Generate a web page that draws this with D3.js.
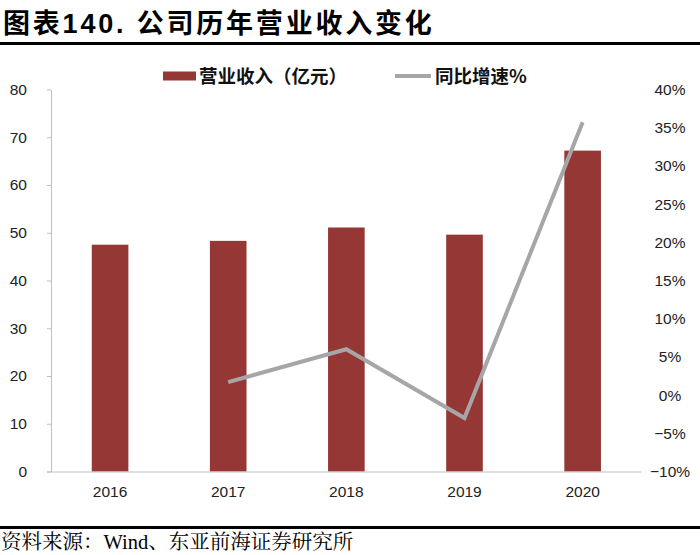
<!DOCTYPE html>
<html><head><meta charset="utf-8">
<script src="https://cdn.jsdelivr.net/npm/d3@7"></script>
<style>
body{margin:0;background:#fff;}
svg{display:block;}
</style></head>
<body>
<script>
const years = ["2016","2017","2018","2019","2020"];
const revenue = [47.5, 48.3, 51.1, 49.6, 67.2];
const growthYears = ["2017","2018","2019","2020"];
const growth = [1.7, 6.0, -3.0, 35.7];
const leftTicks = [0,10,20,30,40,50,60,70,80];
const rightTicks = [-10,-5,0,5,10,15,20,25,30,35,40];

const W = 700, H = 555;
const svg = d3.select("body").append("svg").attr("width", W).attr("height", H);
const numFont = "'Liberation Sans', Arial, sans-serif";
const cjk = "'Noto Sans CJK SC', sans-serif";

// Title
svg.append("text").attr("x", 3).attr("y", 33)
  .attr("font-family", "'Liberation Sans', 'Noto Sans CJK SC', sans-serif")
  .attr("font-weight", "bold").attr("font-size", 27).attr("letter-spacing", 2.8)
  .attr("fill", "#000").text("图表140. 公司历年营业收入变化");
svg.append("rect").attr("x", 0).attr("y", 42).attr("width", W).attr("height", 3).attr("fill", "#000");

// Scales
const x = d3.scaleBand().domain(years).range([51, 641.7]).paddingInner(0.69).paddingOuter(0.345);
const yL = d3.scaleLinear().domain([0, 80]).range([471.5, 89.5]);
const yR = d3.scaleLinear().domain([-10, 40]).range([471.5, 89.5]);

// Bars
svg.append("g").selectAll("rect").data(years).join("rect")
  .attr("x", d => x(d)).attr("width", x.bandwidth())
  .attr("y", (d,i) => yL(revenue[i])).attr("height", (d,i) => yL(0) - yL(revenue[i]))
  .attr("fill", "#953735");

// Left axis
const gL = svg.append("g").attr("transform", "translate(51,0)")
  .call(d3.axisLeft(yL).tickValues(leftTicks).tickSize(4).tickPadding(20).tickSizeOuter(0));
gL.select(".domain").attr("stroke", "#BFBFBF");
gL.selectAll(".tick line").attr("stroke", "#BFBFBF");
gL.selectAll(".tick text").attr("font-family", numFont).attr("font-size", 15.5).attr("fill", "#222");

// Bottom axis
const gB = svg.append("g").attr("transform", "translate(0,471.5)")
  .call(d3.axisBottom(x).tickSize(0).tickPadding(14));
gB.select(".domain").attr("stroke", "#BFBFBF").attr("d", "M47,0.5H641.7");
gB.selectAll(".tick text").attr("font-family", numFont).attr("font-size", 15.5).attr("fill", "#222");

// Right axis (labels only)
const gR = svg.append("g").attr("transform", "translate(670,0)")
  .call(d3.axisRight(yR).tickValues(rightTicks).tickSize(0).tickPadding(0).tickFormat(d => (d < 0 ? "\u2212" + Math.abs(d) : d) + "%"));
gR.select(".domain").remove();
gR.selectAll(".tick text").attr("text-anchor", "middle").attr("font-family", numFont).attr("font-size", 15.5).attr("fill", "#222");

// Growth line
const line = d3.line().x((d,i) => x(growthYears[i]) + x.bandwidth()/2).y(d => yR(d));
svg.append("path").datum(growth).attr("d", line)
  .attr("fill", "none").attr("stroke", "#A6A6A6").attr("stroke-width", 4);

// Legend
svg.append("rect").attr("x", 163).attr("y", 71.5).attr("width", 33).attr("height", 9).attr("fill", "#953735");
svg.append("text").attr("x", 199).attr("y", 83).attr("font-family", cjk).attr("font-size", 18.5).attr("font-weight", "bold")
  .attr("fill", "#111").text("营业收入（亿元）");
svg.append("line").attr("x1", 395).attr("x2", 431).attr("y1", 76).attr("y2", 76)
  .attr("stroke", "#A6A6A6").attr("stroke-width", 4);
svg.append("text").attr("x", 435).attr("y", 83).attr("font-family", cjk).attr("font-size", 18.5).attr("font-weight", "bold")
  .attr("fill", "#111").text("同比增速%");

// Source
svg.append("rect").attr("x", 0).attr("y", 526).attr("width", W).attr("height", 3).attr("fill", "#000");
svg.append("text").attr("x", 1).attr("y", 549)
  .attr("font-family", "'Liberation Serif', 'Noto Serif CJK SC', 'Noto Sans CJK SC', serif")
  .attr("font-size", 20.5).attr("fill", "#000").text("资料来源：Wind、东亚前海证券研究所");
</script>
</body></html>
